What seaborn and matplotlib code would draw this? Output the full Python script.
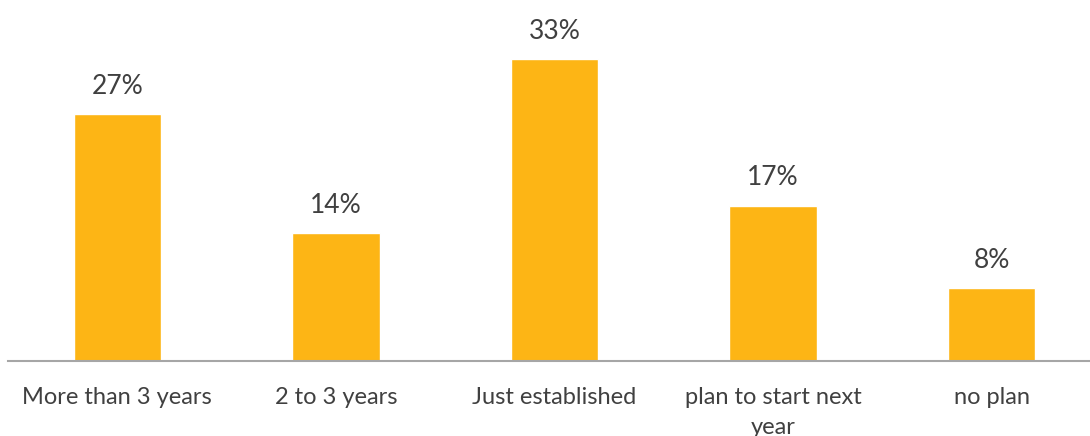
import matplotlib
matplotlib.use("Agg")
import matplotlib.pyplot as plt
import seaborn as sns
import pandas as pd

categories = ["More than 3 years", "2 to 3 years", "Just established",
              "plan to start next\nyear", "no plan"]
shares = [27, 14, 33, 17, 8]
value_labels = ["27%", "14%", "33%", "17%", "8%"]

df = pd.DataFrame({"category": categories, "share": shares})

sns.set_style("white")
plt.rcParams['font.family'] = ['Lato', 'DejaVu Sans']

fig = plt.figure(figsize=(10.9, 4.36), dpi=100)
ax = fig.add_axes([8 / 1090, 75 / 436, 1082 / 1090, 361 / 436])

sns.barplot(data=df, x="category", y="share", color="#FDB515",
            saturation=1, width=0.4, ax=ax)

for bar, lab in zip(ax.patches, value_labels):
    ax.annotate(lab, (bar.get_x() + bar.get_width() / 2, bar.get_height()),
                xytext=(0, 11), textcoords="offset points",
                ha="center", va="bottom", fontsize=19, color="#404040")

ax.set_xlim(-0.5, 4.45)
ax.set_ylim(0, 39.5)
ax.set_xlabel("")
ax.set_ylabel("")
ax.set_yticks([])
ax.tick_params(axis="x", length=0, pad=19, labelsize=17, labelcolor="#404040")
for lab in ax.get_xticklabels():
    lab.set_linespacing(1.5)

sns.despine(ax=ax, left=True, top=True, right=True)
ax.spines["bottom"].set_color("#A6A6A6")
ax.spines["bottom"].set_linewidth(1.5)

fig.savefig("out.png", dpi=100)
